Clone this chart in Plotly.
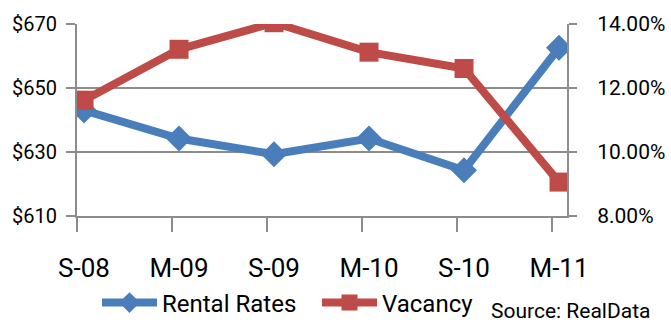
import plotly.graph_objects as go

categories = ["S-08", "M-09", "S-09", "M-10", "S-10", "M-11"]
rental_rates = [643, 634.2, 629.3, 634.2, 624.3, 662.6]
vacancy = [0.1162, 0.1321, 0.1404, 0.1312, 0.1261, 0.0906]
left_ticks = [610, 630, 650, 670]
right_ticks = [0.08, 0.10, 0.12, 0.14]

BLUE = "#4A7EBB"
RED = "#BE4B48"
GRID = "#8C8C8C"
FONT = "Roboto, sans-serif"

x = list(range(len(categories)))
shift = 0.074  # tick marks sit slightly left of the category points

fig = go.Figure()
fig.add_trace(go.Scatter(
    x=x, y=rental_rates, name="Rental Rates", mode="lines+markers",
    line=dict(color=BLUE, width=8),
    marker=dict(symbol="diamond", size=20, color=BLUE),
))
fig.add_trace(go.Scatter(
    x=x, y=vacancy, name="Vacancy", mode="lines+markers", yaxis="y2",
    line=dict(color=RED, width=8),
    marker=dict(symbol="square", size=19, color=RED),
))

fig.update_layout(
    width=671, height=326,
    margin=dict(l=77, r=104, t=24, b=110, autoexpand=False),
    paper_bgcolor="white", plot_bgcolor="white",
    font=dict(family=FONT, color="#000000"),
    xaxis=dict(
        range=[-shift, len(categories) - 1 + 0.084],
        tickvals=[i - shift for i in x], ticktext=categories,
        ticklabelshift=7, ticklabelstandoff=14, automargin=False,
        showgrid=False, zeroline=False,
        showline=True, linecolor=GRID, linewidth=2,
        ticks="outside", ticklen=14, tickwidth=2, tickcolor=GRID,
        tickfont=dict(size=26),
    ),
    yaxis=dict(
        range=[610, 670], tickvals=left_ticks,
        ticktext=[f"${v}" for v in left_ticks],
        showgrid=True, gridcolor=GRID, gridwidth=2,
        zeroline=False, automargin=False,
        showline=True, linecolor=GRID, linewidth=2,
        ticks="outside", ticklen=9, tickwidth=2, tickcolor=GRID,
        tickfont=dict(size=20), ticklabelstandoff=5,
    ),
    yaxis2=dict(
        range=[0.08, 0.14], tickvals=right_ticks,
        ticktext=[f"{v*100:.2f}%" for v in right_ticks],
        overlaying="y", side="right", automargin=False,
        showgrid=False, zeroline=False,
        showline=True, linecolor=GRID, linewidth=2,
        ticks="outside", ticklen=8, tickwidth=2, tickcolor=GRID,
        tickfont=dict(size=21), ticklabelstandoff=16,
    ),
    legend=dict(
        orientation="h", xref="container", yref="container",
        x=97 / 671, y=23 / 326, xanchor="left", yanchor="middle",
        font=dict(size=24), itemwidth=55, entrywidth=150,
        bgcolor="rgba(0,0,0,0)",
    ),
    showlegend=True,
)
fig.add_annotation(
    text="Source: RealData", xref="paper", yref="paper",
    x=(652 - 77) / 490, y=-(296 - 215.5) / 191.5,
    xanchor="right", yanchor="top",
    showarrow=False, font=dict(size=21, family=FONT),
)

fig.write_html("out.html")
